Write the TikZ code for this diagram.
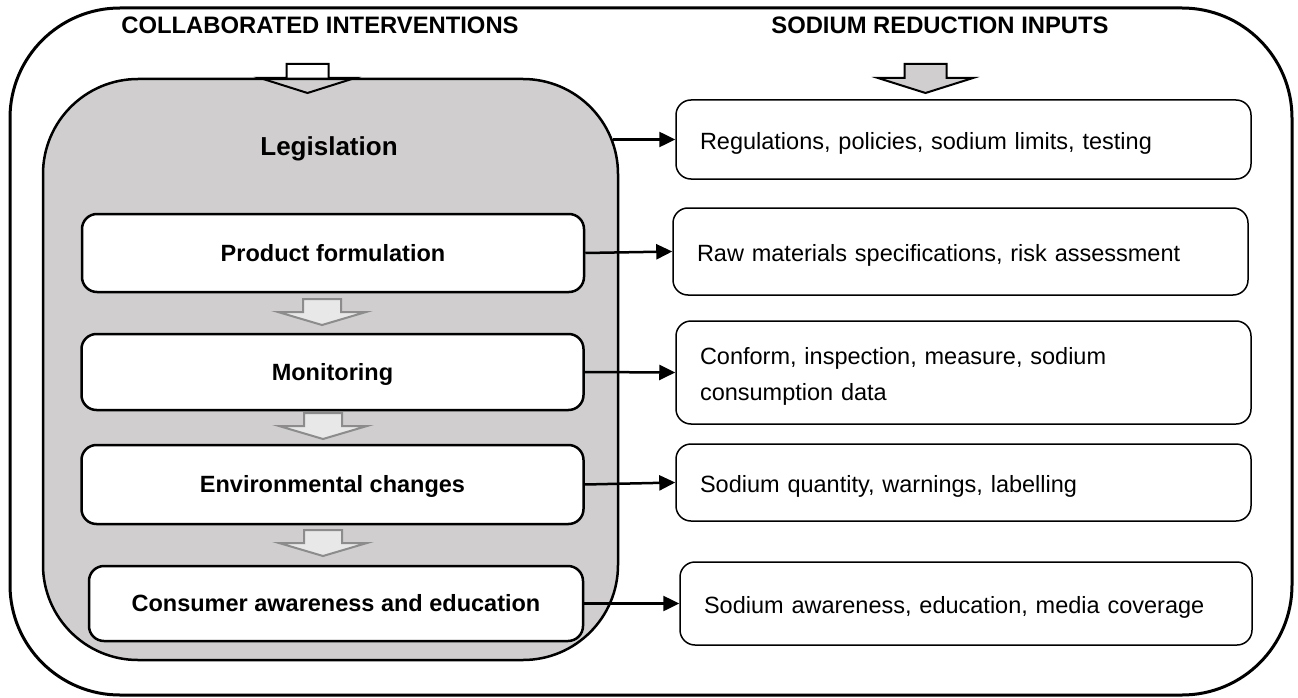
\documentclass[tikz,border=0pt]{standalone}
\usepackage{fontspec}
\setmainfont{Liberation Sans}
\usetikzlibrary{arrows.meta,calc}
\definecolor{legray}{RGB}{208,206,207}
\definecolor{arrowgray}{RGB}{140,140,140}
\definecolor{arrowfill}{RGB}{232,232,232}
\begin{document}
\begin{tikzpicture}[x=1pt,y=-1pt,
 frame/.style={draw=black,line width=3pt,rounded corners=110pt},
 legbox/.style={draw=black,fill=legray,line width=2.5pt,rounded corners=95pt,minimum width=575pt,minimum height=581pt,inner sep=0pt},
 leftbox/.style={draw=black,fill=white,line width=2.5pt,rounded corners=15pt,minimum width=502pt,inner sep=0pt,font=\fontsize{23.5}{28}\selectfont\bfseries,text height=16.8pt,text depth=0pt},
 rightbox/.style={draw=black,fill=white,line width=1.5pt,rounded corners=15pt,text width=527pt,inner xsep=24pt,inner ysep=0pt,align=left,text height=25pt,font=\fontsize{23.5}{36}\selectfont},
 header/.style={font=\fontsize{23.8}{28}\selectfont\bfseries,inner sep=0pt},
 link/.style={line width=2.5pt,-{Triangle[length=16pt,width=15pt]}},
 pics/bigarrow/.style={code={\draw[pic actions] (-21,0) -- (21,0) -- (21,14) -- (47.5,14) -- (0,29) -- (-47.5,14) -- (-21,14) -- cycle;}},
 pics/smallarrow/.style={code={\draw[pic actions] (-19,0) -- (19,0) -- (19,13) -- (44,13) -- (0,26) -- (-44,13) -- (-19,13) -- cycle;}},
 flowarrow/.style={draw=arrowgray,fill=arrowfill,line width=2pt},
]
\useasboundingbox (0,0) rectangle (1298,698);
\draw[frame] (10,8) rectangle (1292,695);
\node[header] (h1) at (320,25.5) {COLLABORATED INTERVENTIONS};
\node[header] (h2) at (940,25.5) {SODIUM REDUCTION INPUTS};
\node[legbox] (leg) at (330.5,369.5) {};
\node[font=\fontsize{26}{30}\selectfont\bfseries,anchor=base,inner sep=0pt] (legt) at (329,155) {Legislation};
\pic[draw=black,line width=2pt] at (307.5,64) {bigarrow};
\pic[draw=black,fill=legray,line width=2pt] at (925.5,64) {bigarrow};
\node[leftbox,minimum height=78pt] (prod) at (333,253) {Product formulation};
\node[leftbox,minimum height=76pt] (mon) at (332.5,372) {Monitoring};
\node[leftbox,minimum height=79pt] (env) at (332.5,484.5) {Environmental changes};
\node[leftbox,minimum width=494pt,minimum height=75pt] (cons) at (336,603.5) {Consumer awareness and education};
\pic[flowarrow] at (322,299) {smallarrow};
\pic[flowarrow] at (323,413) {smallarrow};
\pic[flowarrow] at (323,530) {smallarrow};
\node[rightbox,minimum height=79pt] (reg) at (963.5,139.5) {Regulations, policies, sodium limits, testing};
\node[rightbox,minimum height=87pt] (raw) at (960.5,251.5) {Raw materials specifications, risk assessment};
\node[rightbox,minimum height=103pt] (conf) at (963.5,372.5) {Conform, inspection, measure, sodium\\consumption data};
\node[rightbox,minimum height=77pt] (sq) at (963.5,482.5) {Sodium quantity, warnings, labelling};
\node[rightbox,text width=524pt,minimum height=83pt] (aw) at (966,603.5) {Sodium awareness, education, media coverage};
\draw[link] ($(reg.west -| leg.east)+(-6,0)$) -- (reg.west);
\draw[link] (prod.east) -- (raw.west);
\draw[link] (mon.east) -- (conf.west);
\draw[link] (env.east) -- (sq.west);
\draw[link] (cons.east) -- (aw.west);
\end{tikzpicture}
\end{document}
